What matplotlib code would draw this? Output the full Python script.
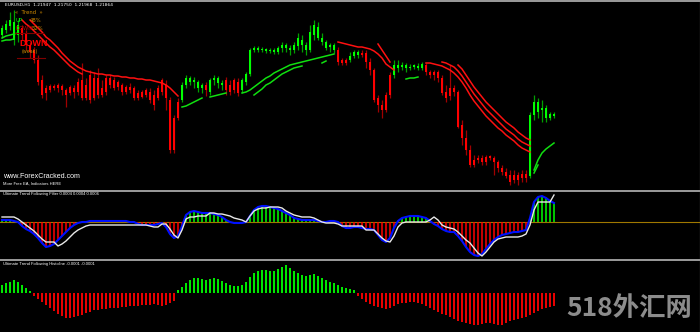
import numpy as np
import matplotlib
matplotlib.use("Agg")
import matplotlib.pyplot as plt
from matplotlib.lines import Line2D

# ---------------- data (prices in pips above 1.2000) ----------------
open_ = [265,270,274,260,265,272,267,255,250,240,220,212,210,214,212,214,210,207,212,208,
         220,202,225,202,222,212,208,222,220,218,215,208,213,212,202,208,210,208,205,202,
         208,215,200,150,182,200,215,222,218,218,212,215,208,220,222,217,220,215,210,218,
         210,218,226,250,252,250,251,249,250,248,252,255,252,250,254,260,255,250,265,273,
         262,258,253,255,250,240,237,240,244,248,245,247,238,230,202,195,190,205,225,235,
         233,235,232,233,234,232,235,228,225,228,222,208,204,212,208,175,162,150,135,140,
         142,138,143,142,138,132,128,125,120,125,122,126,124,185,198,190,192,182,186]
high  = [275,280,288,290,280,275,270,258,253,245,225,215,216,216,217,216,212,215,215,222,
         237,222,230,228,232,220,225,225,223,220,217,215,217,214,210,210,212,212,210,215,
         222,220,203,185,202,218,225,224,223,220,217,218,222,225,224,220,223,220,222,222,
         222,228,252,254,254,253,252,252,252,254,258,257,255,258,267,265,258,275,280,278,
         267,260,257,257,253,242,242,248,250,250,250,250,242,232,205,200,208,228,240,240,
         238,237,236,236,237,238,237,230,230,230,225,215,235,215,210,180,170,155,145,145,
         145,145,145,144,140,135,132,130,130,128,130,130,188,205,202,200,195,188,188]
low   = [262,267,270,255,258,260,250,242,237,215,202,200,208,210,208,205,193,205,202,205,
         200,200,197,200,202,203,205,212,210,210,205,206,207,200,200,202,203,197,190,200,
         205,190,147,147,180,198,212,215,212,208,207,204,205,215,212,210,205,205,207,204,
         207,215,224,248,248,248,247,247,246,246,248,248,245,247,250,248,245,248,260,260,
         255,250,248,247,235,235,235,238,242,242,243,232,225,198,188,182,188,202,222,228,
         230,228,230,231,230,230,225,222,220,218,205,198,200,204,172,155,145,133,133,137,
         135,135,140,125,128,125,122,115,117,115,118,118,122,180,182,178,178,180,182]
close = [272,276,280,278,275,265,255,248,240,218,205,207,214,212,215,210,205,213,208,218,
         202,215,200,222,205,205,222,215,212,213,208,213,210,202,207,203,205,200,195,212,
         220,202,150,182,198,215,222,218,220,212,215,210,220,222,217,215,210,208,220,207,
         220,226,250,252,250,251,249,250,248,252,255,252,250,255,262,255,250,268,275,262,
         258,252,255,250,238,237,240,244,248,245,247,238,230,200,195,190,205,225,235,232,
         235,232,233,234,232,236,228,225,228,222,207,202,212,208,173,162,150,135,140,142,
         138,143,142,138,132,128,124,118,125,120,126,122,185,198,188,192,182,186,184]
trend = ([1]*5 + [-1]*40 + [1]*6 + [-1] + [1]*4 + [-1]*4 + [1]*24 + [-1]*3 + [1]*3 +
         [-1]*8 + [1]*8 + [-1]*26 + [1]*7)

# trend band lines (pips), (start bar, values)
red_hi_a = (7, [280,276,272,268,263,260,256,252,247,243,239,236,233,231,229,228,227,226,226,225,
                225,224,224,223,223,222,222,221,221,220,220,219,218,217,215,212,208,204])
red_lo_a = (5, [280,276,273,269,265,261,257,253,250,246,242,238,234,231,228,226])
red_hi_b = (84, [258,257,256,255,254,253,253,252,251,249,246,242,236,233,230])
red_s2 = (94, [256,250,244,238])
red_l3 = (106, [237,237,236,235,234,232,230,227,223,218,212,205,199,194,189,184,180,176,172,169,
                165,162,159,155,152,150,148])
red_l2 = (110, [238,237,235,233,229,224,218,212,206,201,196,191,187,183,179,175,171,168,165,161,
                158,156,154])
red_l1 = (114, [235,231,225,219,213,208,203,198,194,190,186,182,178,175,172,168,165,162,160])
grn_hi_0 = (0, [262,264,265,266,267])
grn_lo_0 = (0, [259,260,260,261])
grn_hi_1 = (45, [193,194,196,198,200,202])
grn_hi_2 = (52, [203,204,205,206,207])
grn_hi_3 = (60, [207,208,210,213,216,219,222,224,227,229,231,233,235,236,237,238,239,240,241,242,
                 243,244,245,246])
grn_lo_1 = (63, [205,208,211,215,217,220,223,226,228,230,232,233,234])
grn_lo_2 = (80, [237,239])
grn_hi_4 = (101, [221,222,222,223])
grn_hi_5 = (133, [130,140,147,151,154,157])
grn_lo_3 = (133, [127,135])

# Ultimate Trend Following Filter (points, 1e-5)
filt = ([4,4,4,2,0,-8,-14,-18,-24,-32,-42,-50,-48,-44,-36,-28,-20,-12,-6,-2,0,0] + [2]*10 +
        [0,0,-4,-6,-6,-6,-6,-4,-2,-10,-24,-32,-28,-8,14,20,22,20,18,18,18,16,14,10,4,
         0,-2,-2,-2,0,12,24,30,32,32,30,28,26,22,18,14,8,6,4,4,4,4,2,0,0,2,2,0,
         -8,-12,-12,-10,-10,-12,-14,-14,-16,-26,-36,-40,-32,-12,2,8,10,12,12,12,10,8,2,
         -4,-8,-14,-18,-20,-20,-28,-38,-50,-60,-66,-68,-64,-54,-44,-36,-30,-26,-24,-22,-20,
         -20,-18,-16,8,40,50,52,48,42,38])
signal = ([10,10,10,10,6,0,-6,-12,-18,-26,-34,-40,-40,-40,-48,-44,-38,-30,-22,-16,-12,-8] +
          [-6]*15 + [-8,-10,-10,-4,-4,-14,-26,-32,-16,6,10,10,12,12,12,18,18,16,16,14,12,8,6,4,0,
           12,22,26,28,28,30,30,30,28,22,18,14,12,10,10,10,8,4,0,-2,-2,-2,-4] + [-8]*6 +
          [-16,-16,-16,-24,-32,-38,-40,-28,-10,-2] + [0]*6 +
          [4,10,4,-6,-10,-12,-14,-20,-28,-36,-42,-52,-62,-68,-60,-50,-40,-34,-32,-30,-30,-30,-30,
           -28,-24,-6,24,40,40,40,40,54])

# Ultimate Trend Following Histoline
histo = ([8,10,11,13,11,8,5,2] +
         [-3,-6,-9,-12,-15,-18,-21,-23,-25,-25,-24,-23,-22,-20,-19,-17,-17,-16,-16,-15,-15,-15,
          -14,-14,-13,-13,-13,-12,-12,-12,-11,-12,-13,-12,-10,-8] +
         [3,6,10,13,15,15,14,13,14,15,14,12,10,8,7,7,8,11,16,20,22,23,23,22,22,24,26,28,25,22,
          20,18,17,18,19,17,15,13,11,10,8,6,5,4,3] +
         [-3,-6,-9,-11,-13,-14,-15,-16,-15,-13,-11,-10,-10,-9,-9,-10,-11,-13,-15,-17,-19,-21,-22,
          -24,-26,-28,-29,-30,-31,-32,-32,-31,-30,-30,-31,-32,-32,-30,-28,-27,-26,-25,-24,-22,-20,
          -18,-16,-15,-14,-13])

# ---------------- figure ----------------
W, H = 700, 332
fig = plt.figure(figsize=(W/100, H/100), dpi=100, facecolor='black')

def rect(top, bot):
    return [0, (H - bot)/H, 1, (bot - top)/H]

ax1 = fig.add_axes(rect(2, 190))
ax2 = fig.add_axes(rect(191, 259))
ax3 = fig.add_axes(rect(261, 332))
for ax in (ax1, ax2, ax3):
    ax.set_facecolor('black')
    ax.set_xlim(-0.5, 174.5)
    ax.set_axis_off()

P = lambda v: 1.2 + np.asarray(v, float) / 1e4
x = np.arange(len(close))
O, Hh, L, C = P(open_), P(high), P(low), P(close)
tr = np.array(trend)
body_col = np.where(tr > 0, '#00ff00', '#ff0000')
wick_col = np.where(tr > 0, '#00a000', '#a00000')
ax1.vlines(x, L, Hh, colors=wick_col, lw=0.9, zorder=2)
bot = np.minimum(O, C)
ht = np.maximum(np.abs(C - O), 0.00015)
ax1.bar(x, ht, bottom=bot, width=0.7, color=body_col, lw=0, zorder=3)

for seg in (red_hi_a, red_lo_a, red_hi_b, red_s2, red_l3, red_l2, red_l1):
    s, v = seg
    ax1.plot(np.arange(s, s + len(v)), P(v), color='#ff1010', lw=1.1, zorder=4)
for seg in (grn_hi_0, grn_lo_0, grn_hi_1, grn_hi_2, grn_hi_3, grn_lo_1, grn_lo_2, grn_hi_4,
            grn_hi_5, grn_lo_3):
    s, v = seg
    ax1.plot(np.arange(s, s + len(v)), P(v), color='#10e010', lw=1.1, zorder=4)
ax1.set_ylim(P(110), P(298))

# panel 2
f = np.array(filt) * 1e-5
sg = np.array(signal) * 1e-5
ax2.axhline(0, color='#a07800', lw=0.8, zorder=1)
ax2.vlines(x, 0, f, colors=np.where(f >= 0, '#00ff00', '#ff0000'), lw=1.1, zorder=2)
ax2.plot(x, f, color='#0010ff', lw=1.5, zorder=3)
ax2.plot(x, sg, color='#e8e8e8', lw=1.0, zorder=4)
ax2.set_ylim(-74e-5, 62e-5)

# panel 3
hs = np.array(histo) * 1e-5
ax3.vlines(x, 0, hs, colors=np.where(hs >= 0, '#00ff00', '#ff0000'), lw=1.3)
ax3.set_ylim(-39e-5, 32e-5)

# separators
for yp in (0.8, 190.5, 260.0):
    fig.add_artist(Line2D([0, 1], [1 - yp/H]*2, transform=fig.transFigure, color='#a8a8a8', lw=1.3))
fig.add_artist(Line2D([1 - 0.5/W]*2, [0, 1], transform=fig.transFigure, color='#a8a8a8', lw=0.8))

def T(px, py, s, **kw):
    fig.text(px / W, 1 - py / H, s, va='center', ha='left', **kw)

T(5, 4.5, 'EURUSD,H1  1.21947  1.21750  1.21968  1.21864', fontsize=3.2, color='white')
T(15, 12, '«  Trend  »', fontsize=3.8, color='#d08a00')
T(15, 20, 'UP', fontsize=3.8, color='#00ff00')
T(30, 20, '48%', fontsize=3.8, color='#d08a00')
T(15, 28, 'DOWN', fontsize=3.8, color='#c00000')
T(32, 28, '52%', fontsize=3.8, color='#d08a00')
T(19, 43, 'DOWN', fontsize=6.5, color='#ff0000', weight='bold', family='Liberation Sans')
T(22, 51.5, '(weak)', fontsize=3.4, color='#d08a00')
fig.add_artist(Line2D([15/W, 43/W], [1 - 33/H]*2, transform=fig.transFigure, color='#800000', lw=0.8))
fig.add_artist(Line2D([17/W, 45/W], [1 - 58/H]*2, transform=fig.transFigure, color='#800000', lw=0.8))

T(3, 177, 'www.ForexCracked.com', fontsize=5.1, color='white', family='Liberation Sans')
T(3, 184, 'More Free EA, Indicators HERE', fontsize=3.0, color='white', family='Liberation Sans')
T(3, 194.5, 'Ultimate Trend Following Filter 0.0004 0.0004 0.0006', fontsize=3.0, color='white',
  family='Liberation Sans')
T(3, 264.5, 'Ultimate Trend Following Histoline -0.0001 -0.0001', fontsize=3.0, color='white',
  family='Liberation Sans')
T(566, 309, '518外汇网', fontsize=19, color='#8c8c8c', weight='bold',
  family=['Noto Sans CJK SC', 'DejaVu Sans'])

fig.savefig('out.png', dpi=100, facecolor='black')
